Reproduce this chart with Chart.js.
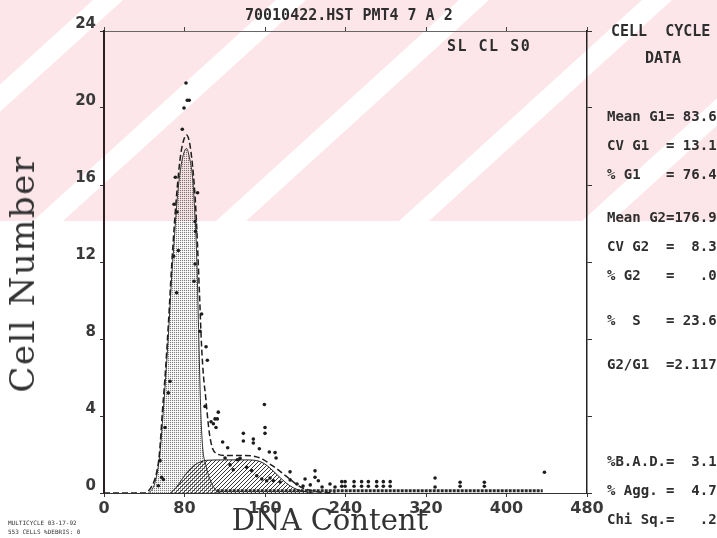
<!DOCTYPE html>
<html>
<head>
<meta charset="utf-8">
<script src="https://cdn.jsdelivr.net/npm/chart.js@4.4.1/dist/chart.umd.min.js"></script>
<style>
  body { margin: 0; background: #fff; }
  #wrap { position: relative; width: 717px; height: 538px; overflow: hidden; }
  #cycleChart { position: absolute; left: 0; top: 0; }
  .txt { position: absolute; font: bold 14px "DejaVu Sans Mono", monospace; color: #2e2e2e; white-space: pre; line-height: 16px; }
  .big { position: absolute; font: 29px "DejaVu Serif", serif; color: #333; white-space: pre; line-height: 1; }
  .foot { position: absolute; left: 8px; font: 6px "DejaVu Sans Mono", monospace; color: #333; white-space: pre; line-height: 7px; }
</style>
</head>
<body>
<div id="wrap">
  <canvas id="cycleChart" width="717" height="538"></canvas>

  <div class="txt" style="left:245px;top:7px;font-size:15px;">70010422.HST PMT4 7 A 2</div>
  <div class="txt" style="left:447px;top:38px;font-size:15px;letter-spacing:1.5px;">SL CL S0</div>

  <div class="txt" style="left:611px;top:23px;font-size:15px;">CELL  CYCLE</div>
  <div class="txt" style="left:645px;top:50px;font-size:15px;">DATA</div>
  <div class="txt" style="left:607px;top:108px;">Mean G1= 83.6</div>
  <div class="txt" style="left:607px;top:137px;">CV G1  = 13.1</div>
  <div class="txt" style="left:607px;top:166px;">% G1   = 76.4</div>
  <div class="txt" style="left:607px;top:209px;">Mean G2=176.9</div>
  <div class="txt" style="left:607px;top:238px;">CV G2  =  8.3</div>
  <div class="txt" style="left:607px;top:267px;">% G2   =   .0</div>
  <div class="txt" style="left:607px;top:312px;">%  S   = 23.6</div>
  <div class="txt" style="left:607px;top:356px;">G2/G1  =2.117</div>
  <div class="txt" style="left:607px;top:453px;">%B.A.D.=  3.1</div>
  <div class="txt" style="left:607px;top:482px;">% Agg. =  4.7</div>
  <div class="txt" style="left:607px;top:511px;">Chi Sq.=   .2</div>

  <div class="big" style="left:330px;top:520px;transform:translate(-50%,-50%);">DNA Content</div>
  <div class="big" style="left:22px;top:274px;font-size:34px;letter-spacing:1.5px;transform:translate(-50%,-50%) rotate(-90deg);">Cell Number</div>

  <div class="foot" style="top:519px;">MULTICYCLE 03-17-92</div>
  <div class="foot" style="top:528px;">553 CELLS %DEBRIS: 0</div>
</div>

<script>
// histogram channels (DNA content, cell count)
const histX = [54, 55.7, 57.3, 59, 60.6, 63.9, 65.6, 69.2, 69.6, 70.9, 72.2, 72.6, 73.9, 77.8, 79.5, 81.5, 82.8, 84.7,
  89.5, 90.5, 90.5, 91, 93, 95.4, 97, 100.4, 101.4, 102.7, 106.4, 108.7, 110.3, 111.3, 112.6, 113.6, 117.9, 120.3,
  122.9, 125.3, 128.5, 132.5, 135.2, 138.5, 138.5, 141.8, 146.8, 148.4, 148.4, 151.8, 154.4, 156.8, 159.4, 160, 160,
  161.7, 164.3, 165, 168.3, 170, 171, 175, 184.9, 185, 191.8, 197.8, 199.8, 205, 209.7, 209.7, 213, 216.7, 224.6,
  229.6, 236.3, 236.3, 239.6, 239.6, 248.5, 248.5, 256, 256, 262.7, 262.7, 271, 271, 277.6, 277.6, 284.4, 284.4,
  329, 329, 353.9, 353.9, 378, 378, 437.7];
const histY = [0.38, 1.68, 0.82, 0.7, 3.4, 5.2, 5.8, 12.3, 15.0, 16.4, 10.4, 14.6, 12.6, 18.9, 20.0, 21.3, 20.4, 20.4,
  11.0, 14.1, 11.9, 13.6, 15.6, 8.4, 9.3, 4.5, 7.6, 6.9, 3.7, 3.6, 3.85, 3.4, 3.85, 4.2, 2.65, 1.82,
  2.35, 1.46, 1.21, 1.73, 1.8, 3.1, 2.7, 1.34, 1.16, 2.8, 2.6, 0.9, 2.3, 0.73, 4.6, 3.4, 3.1,
  0.64, 2.13, 0.78, 0.64, 2.1, 1.82, 0.57, 1.1, 0.68, 0.47, 0.36, 0.73, 0.42, 1.15, 0.82, 0.64, 0.31, 0.47,
  0.31, 0.59, 0.35, 0.59, 0.35, 0.59, 0.35, 0.59, 0.35, 0.59, 0.35, 0.59, 0.35, 0.59, 0.35, 0.59, 0.35,
  0.78, 0.31, 0.56, 0.35, 0.56, 0.35, 1.08];

// run of empty channels along the baseline
const zeroRunX = [112, 436];
const zeroRunY = [0.12, 0.12];

// total model fit (dashed)
const fitX = [0, 40, 44, 48, 52, 55, 58, 61, 64, 67, 70, 73, 76, 79, 82, 85, 88, 91, 93, 95, 97, 99, 101, 103, 105,
  108, 112, 120, 130, 140, 150, 158, 165, 172, 178, 184, 190, 196, 204, 214, 230];
const fitY = [0, 0, 0.1, 0.4, 1.0, 2.0, 4.2, 6.3, 8.8, 11.6, 14.0, 16.0, 17.5, 18.3, 18.6, 18.2, 17.0, 15.0, 12.8, 10.2,
  7.6, 6.0, 5.0, 3.9, 3.0, 2.3, 2.05, 1.95, 1.95, 1.95, 1.9, 1.75, 1.5, 1.25, 1.0, 0.75, 0.5, 0.3, 0.15, 0.05, 0];

// G1 peak component (stippled)
const g1X = [44, 48, 51, 54, 56, 58, 61, 64, 67, 70, 73, 76, 79, 82, 85, 88, 90, 92, 94, 96, 98, 101, 104, 108, 112, 116];
const g1Y = [0, 0.2, 0.6, 1.4, 2.3, 3.6, 5.8, 8.2, 11.0, 13.3, 15.4, 16.8, 17.6, 17.9, 17.4, 16.4, 14.8, 12.5, 8.5, 4.5,
  2.4, 1.5, 0.9, 0.4, 0.1, 0];

// S phase component (hatched)
const sX = [66, 72, 78, 84, 90, 96, 102, 120, 140, 152, 160, 168, 176, 184, 192, 200, 208];
const sY = [0, 0.3, 0.75, 1.15, 1.45, 1.62, 1.7, 1.72, 1.72, 1.68, 1.5, 1.15, 0.75, 0.4, 0.18, 0.07, 0];

const xTicks = [0, 80, 160, 240, 320, 400, 480];
const yTicks = [0, 4, 8, 12, 16, 20, 24];

function pts(xs, ys) {
  return xs.map((x, i) => ({ x: x, y: ys[i] }));
}

const canvas = document.getElementById('cycleChart');
const ctx = canvas.getContext('2d');

// fill patterns like the old plotter output
function stipple() {
  const c = document.createElement('canvas');
  c.width = 2; c.height = 2;
  const g = c.getContext('2d');
  g.fillStyle = 'rgba(40,40,40,0.6)';
  g.fillRect(0, 0, 1, 1);
  g.fillStyle = 'rgba(120,120,120,0.12)';
  g.fillRect(1, 0, 1, 1);
  g.fillRect(0, 1, 1, 1);
  return ctx.createPattern(c, 'repeat');
}
function hatch() {
  const c = document.createElement('canvas');
  c.width = 4; c.height = 4;
  const g = c.getContext('2d');
  g.fillStyle = 'rgba(20,20,20,0.85)';
  for (let i = 0; i < 4; i++) g.fillRect(i, 3 - i, 1, 1);
  return ctx.createPattern(c, 'repeat');
}

// faint pink watermark from the scanned page
const watermark = {
  id: 'watermark',
  beforeDraw(chart) {
    const c = chart.ctx;
    c.save();
    c.fillStyle = '#fce6ea';
    c.fillRect(0, 0, 717, 221);
    c.fillStyle = '#ffffff';
    for (let k = -90; k < 1100; k += 183) {
      c.beginPath();
      c.moveTo(k, 0);
      c.lineTo(k + 30, 0);
      c.lineTo(k + 30 - 243, 221);
      c.lineTo(k - 243, 221);
      c.closePath();
      c.fill();
    }
    c.restore();
  }
};

const tickFont = { family: 'DejaVu Sans', size: 15, weight: 'bold' };

new Chart(ctx, {
  type: 'scatter',
  data: {
    datasets: [
      {
        label: 'Channels',
        data: pts(histX, histY),
        pointRadius: 1.8,
        pointBackgroundColor: '#1c1c1c',
        pointBorderWidth: 0
      },
      {
        label: 'Empty channels',
        data: pts(zeroRunX, zeroRunY),
        showLine: true,
        pointRadius: 0,
        borderColor: '#2a2a2a',
        borderWidth: 3,
        borderDash: [3, 1]
      },
      {
        label: 'Fit',
        data: pts(fitX, fitY),
        showLine: true,
        pointRadius: 0,
        borderColor: '#1e1e1e',
        borderWidth: 1.5,
        borderDash: [6, 3],
        cubicInterpolationMode: 'monotone'
      },
      {
        label: 'G1',
        data: pts(g1X, g1Y),
        showLine: true,
        pointRadius: 0,
        borderColor: '#333',
        borderWidth: 1,
        fill: 'origin',
        backgroundColor: stipple(),
        cubicInterpolationMode: 'monotone'
      },
      {
        label: 'S',
        data: pts(sX, sY),
        showLine: true,
        pointRadius: 0,
        borderColor: '#222',
        borderWidth: 1,
        fill: 'origin',
        backgroundColor: hatch(),
        cubicInterpolationMode: 'monotone'
      }
    ]
  },
  options: {
    responsive: false,
    animation: false,
    layout: { padding: 0 },
    plugins: { legend: { display: false }, tooltip: { enabled: false } },
    scales: {
      x: {
        type: 'linear', position: 'bottom', min: 0, max: 480,
        afterBuildTicks: s => { s.ticks = xTicks.map(v => ({ value: v })); },
        ticks: { padding: 2, maxRotation: 0, autoSkip: false, color: '#3a3a3a', font: { family: 'DejaVu Sans', size: 16, weight: 'bold' } },
        grid: { drawOnChartArea: false, tickLength: 4, color: '#333' },
        border: { color: '#333', width: 1 },
        afterFit: s => { s.height = 45; }
      },
      x2: {
        type: 'linear', position: 'top', min: 0, max: 480,
        afterBuildTicks: s => { s.ticks = xTicks.map(v => ({ value: v })); },
        ticks: { display: false },
        grid: { drawOnChartArea: false, tickLength: 4, color: '#444' },
        border: { color: '#666', width: 1, dash: [5, 2] },
        afterFit: s => { s.height = 31; }
      },
      y: {
        type: 'linear', position: 'left', min: 0, max: 24,
        afterBuildTicks: s => { s.ticks = yTicks.map(v => ({ value: v })); },
        ticks: { padding: 4, labelOffset: -7, color: '#3a3a3a', font: tickFont },
        grid: { drawOnChartArea: false, tickLength: 4, color: '#333' },
        border: { color: '#2b1f22', width: 2 },
        afterFit: s => { s.width = 104; }
      },
      y2: {
        type: 'linear', position: 'right', min: 0, max: 24,
        afterBuildTicks: s => { s.ticks = yTicks.map(v => ({ value: v })); },
        ticks: { display: false },
        grid: { drawOnChartArea: false, tickLength: 5, color: '#333' },
        border: { color: '#222', width: 1.5 },
        afterFit: s => { s.width = 130; }
      }
    }
  },
  plugins: [watermark]
});
</script>
</body>
</html>
